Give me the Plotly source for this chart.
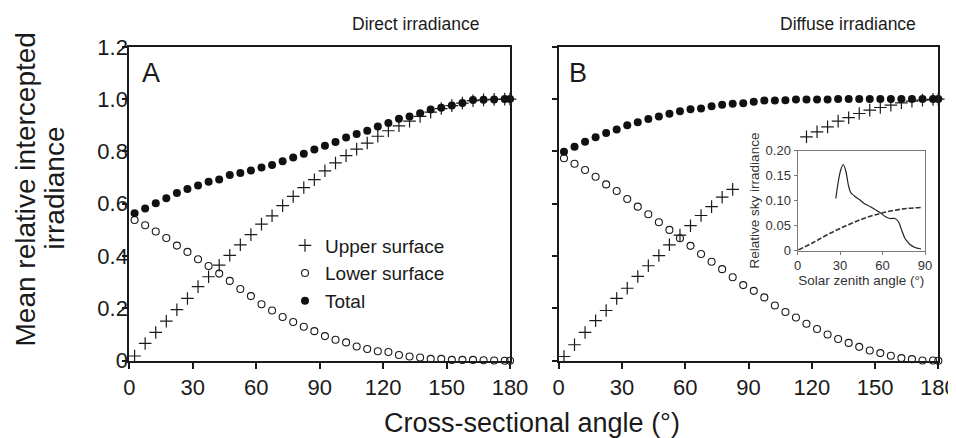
import plotly.graph_objects as go

# ---------------- data ----------------
angles = [2.5, 7.5, 12.5, 17.5, 22.5, 27.5, 32.5, 37.5, 42.5, 47.5, 52.5, 57.5,
          62.5, 67.5, 72.5, 77.5, 82.5, 87.5, 92.5, 97.5, 102.5, 107.5, 112.5,
          117.5, 122.5, 127.5, 132.5, 137.5, 142.5, 147.5, 152.5, 157.5, 162.5,
          167.5, 172.5, 177.5, 180]

direct_upper = [0.018, 0.066, 0.108, 0.151, 0.195, 0.238, 0.283, 0.321, 0.365, 0.403,
                0.443, 0.482, 0.522, 0.554, 0.593, 0.628, 0.662, 0.692, 0.726, 0.756,
                0.784, 0.809, 0.832, 0.858, 0.879, 0.898, 0.916, 0.934, 0.950, 0.964,
                0.975, 0.985, 0.994, 0.997, 0.999, 1.0, 1.0]
direct_lower = [0.538, 0.518, 0.494, 0.469, 0.440, 0.416, 0.388, 0.362, 0.333, 0.305,
                0.274, 0.247, 0.216, 0.192, 0.167, 0.148, 0.130, 0.113, 0.094, 0.080,
                0.070, 0.054, 0.045, 0.036, 0.033, 0.022, 0.016, 0.012, 0.007, 0.007,
                0.003, 0.003, 0.003, 0.002, 0.001, 0.0, 0.0]
direct_total = [0.564, 0.582, 0.602, 0.621, 0.641, 0.656, 0.670, 0.684, 0.693, 0.710,
                0.718, 0.727, 0.739, 0.748, 0.762, 0.777, 0.791, 0.807, 0.822, 0.836,
                0.853, 0.867, 0.879, 0.895, 0.909, 0.925, 0.934, 0.946, 0.960, 0.967,
                0.976, 0.985, 0.997, 0.998, 0.999, 1.0, 1.0]

# points 87.5-112.5 of the upper surface are hidden behind the inset in the original
diffuse_upper = [0.016, 0.061, 0.108, 0.153, 0.192, 0.238, 0.277, 0.322, 0.363, 0.402,
                 0.443, 0.480, 0.516, 0.555, 0.589, 0.625, 0.655, None, None, None,
                 None, None, None, 0.856, 0.875, 0.894, 0.916, 0.929, 0.945, 0.958,
                 0.968, 0.977, 0.986, 0.992, 0.996, 0.999, 1.0]
diffuse_lower = [0.774, 0.753, 0.729, 0.703, 0.674, 0.649, 0.618, 0.589, 0.560, 0.529,
                 0.500, 0.468, 0.439, 0.408, 0.378, 0.350, 0.319, 0.289, 0.267, 0.242,
                 0.211, 0.186, 0.165, 0.141, 0.121, 0.100, 0.083, 0.068, 0.053, 0.039,
                 0.029, 0.019, 0.010, 0.006, 0.001, 0.001, 0.0]
diffuse_total = [0.799, 0.818, 0.837, 0.854, 0.870, 0.884, 0.900, 0.912, 0.924, 0.934,
                 0.944, 0.954, 0.961, 0.964, 0.973, 0.978, 0.982, 0.984, 0.990, 0.995,
                 0.995, 0.996, 0.999, 0.999, 0.999, 0.999, 1.0, 1.0, 1.0, 1.0,
                 1.0, 1.0, 1.0, 1.0, 1.0, 1.0, 1.0]

# inset: relative sky irradiance vs solar zenith angle
sky_angle = [27.0, 28.8, 30.5, 32.3, 34.2, 35.9, 37.5, 40.6, 44.1, 47.6, 51.2, 54.7,
             58.2, 61.8, 65.3, 68.8, 71.2, 73.5, 75.9, 79.4, 82.9, 87.2]
sky_solid = [0.104, 0.138, 0.161, 0.172, 0.158, 0.131, 0.116, 0.108, 0.101, 0.093,
             0.088, 0.082, 0.076, 0.068, 0.064, 0.064, 0.058, 0.041, 0.024, 0.012,
             0.006, 0.003]
dash_angle = [0.6, 11.2, 20.6, 30.0, 39.4, 48.8, 58.2, 67.6, 77.0, 87.7]
dash_values = [0.001, 0.016, 0.031, 0.044, 0.056, 0.066, 0.074, 0.080, 0.084, 0.086]

x_ticks = [0, 30, 60, 90, 120, 150, 180]
y_ticks = [0, 0.2, 0.4, 0.6, 0.8, 1.0, 1.2]
y_ticktext = ["0", "0.2", "0.4", "0.6", "0.8", "1.0", "1.2"]
inset_xticks = [0, 30, 60, 90]
inset_yticks = [0, 0.05, 0.10, 0.15, 0.20]
inset_yticktext = ["0", "0.05", "0.10", "0.15", "0.20"]

# ---------------- styling ----------------
INK = "#1a1a1a"
FONT = "Liberation Sans, Arial, Helvetica, sans-serif"
# the page body has an 8px margin: all target positions (window pixels) are
# shifted by that offset; the figure keeps the full window width so that
# nothing is clipped at the div's right edge.
OFF = 8
W, H = 956, 438 - OFF

mk_upper = dict(symbol="cross-thin", size=9, color=INK, line=dict(width=1.2, color=INK))
mk_lower = dict(symbol="circle-open", size=7, color=INK, line=dict(width=1.1, color=INK))
mk_total = dict(symbol="circle", size=8, color="#111111", line=dict(width=0))

fig = go.Figure()
for (up, lo, tot, xa, ya, show) in [
    (direct_upper, direct_lower, direct_total, "x", "y", True),
    (diffuse_upper, diffuse_lower, diffuse_total, "x2", "y2", False),
]:
    fig.add_trace(go.Scatter(x=angles, y=up, mode="markers", marker=mk_upper,
                             name="Upper surface", showlegend=show, cliponaxis=False,
                             xaxis=xa, yaxis=ya))
    fig.add_trace(go.Scatter(x=angles, y=lo, mode="markers", marker=mk_lower,
                             name="Lower surface", showlegend=show, cliponaxis=False,
                             xaxis=xa, yaxis=ya))
    fig.add_trace(go.Scatter(x=angles, y=tot, mode="markers", marker=mk_total,
                             name="Total", showlegend=show, cliponaxis=False,
                             xaxis=xa, yaxis=ya))

fig.add_trace(go.Scatter(x=sky_angle, y=sky_solid, mode="lines",
                         line=dict(color="#222222", width=1.2, shape="spline", smoothing=0.6),
                         showlegend=False, xaxis="x3", yaxis="y3"))
fig.add_trace(go.Scatter(x=dash_angle, y=dash_values, mode="lines",
                         line=dict(color="#333333", width=1.6, dash="5px,2px", shape="spline"),
                         showlegend=False, xaxis="x3", yaxis="y3"))


def px_x(p):
    return (p - OFF) / W


def px_y(p):
    return (H - (p - OFF)) / H


main_y_dom = [px_y(360.7), px_y(46.8)]
common_x = dict(range=[0, 180], tickvals=x_ticks, ticks="outside", ticklen=6, tickwidth=1.5,
                tickcolor=INK, showline=True, linewidth=2, linecolor=INK, mirror=True,
                showgrid=False, zeroline=False, tickfont=dict(size=22, color=INK, family=FONT),
                ticklabelstandoff=0, automargin=False, ticklabeloverflow="allow")
common_y = dict(range=[0, 1.2], tickvals=y_ticks, ticktext=y_ticktext, ticks="outside",
                ticklen=5, tickwidth=1.5, tickcolor=INK, showline=True, linewidth=2,
                linecolor=INK, mirror=True, showgrid=False, zeroline=False,
                tickfont=dict(size=22, color=INK, family=FONT), domain=main_y_dom,
                automargin=False)

inset_axis = dict(showline=True, linewidth=1, linecolor="#7a7a7a", mirror=True, ticks="outside",
                  ticklen=3, tickwidth=1, tickcolor="#7a7a7a", showgrid=False, zeroline=False,
                  tickfont=dict(size=13, color="#333333", family=FONT), automargin=False)

fig.update_layout(
    width=W, height=H,
    margin=dict(l=0, r=0, t=0, b=0, autoexpand=False),
    paper_bgcolor="white", plot_bgcolor="white",
    font=dict(family=FONT, color=INK),
    showlegend=True,
    legend=dict(x=px_x(285), y=px_y(226.5), xanchor="left", yanchor="top",
                bgcolor="rgba(0,0,0,0)", borderwidth=0,
                font=dict(size=19, color=INK, family=FONT)),
    xaxis=dict(domain=[px_x(129.3), px_x(510)], anchor="y", **common_x),
    yaxis=dict(anchor="x", showticklabels=True, ticklabelstandoff=-10, **common_y),
    xaxis2=dict(domain=[px_x(558.7), px_x(938.3)], anchor="y2", **common_x),
    yaxis2=dict(anchor="x2", showticklabels=False, **common_y),
    xaxis3=dict(domain=[px_x(797.5), px_x(925)], anchor="y3", range=[0, 90],
                tickvals=inset_xticks,
                title=dict(text="Solar zenith angle (°)", standoff=0,
                           font=dict(size=13.5, color="#333333", family=FONT)),
                **inset_axis),
    yaxis3=dict(domain=[px_y(250.5), px_y(150.5)], anchor="x3", range=[0, 0.2],
                tickvals=inset_yticks, ticktext=inset_yticktext,
                title=dict(text="Relative sky irradiance", standoff=2,
                           font=dict(size=13.5, color="#333333", family=FONT)),
                **inset_axis),
)

annotations = [
    dict(text="Direct irradiance", x=px_x(415.5), y=px_y(24), font=dict(size=17.5, family=FONT)),
    dict(text="Diffuse irradiance", x=px_x(848.4), y=px_y(24), font=dict(size=17.5, family=FONT)),
    dict(text="A", x=px_x(150.5), y=px_y(72.5), font=dict(size=27, family=FONT)),
    dict(text="B", x=px_x(577.5), y=px_y(72.5), font=dict(size=27, family=FONT)),
    dict(text="Mean relative intercepted", x=px_x(25.5), y=px_y(190), textangle=-90,
         font=dict(size=28, family=FONT)),
    dict(text="irradiance", x=px_x(54), y=px_y(188.5), textangle=-90,
         font=dict(size=28, family=FONT)),
    dict(text="Cross-sectional angle (°)", x=px_x(531.5), y=px_y(423), font=dict(size=27, family=FONT)),
]
for a in annotations:
    a.update(xref="paper", yref="paper", showarrow=False, xanchor="center", yanchor="middle")
    a["font"].setdefault("color", INK)
fig.update_layout(annotations=annotations)

fig.write_html("out.html")
